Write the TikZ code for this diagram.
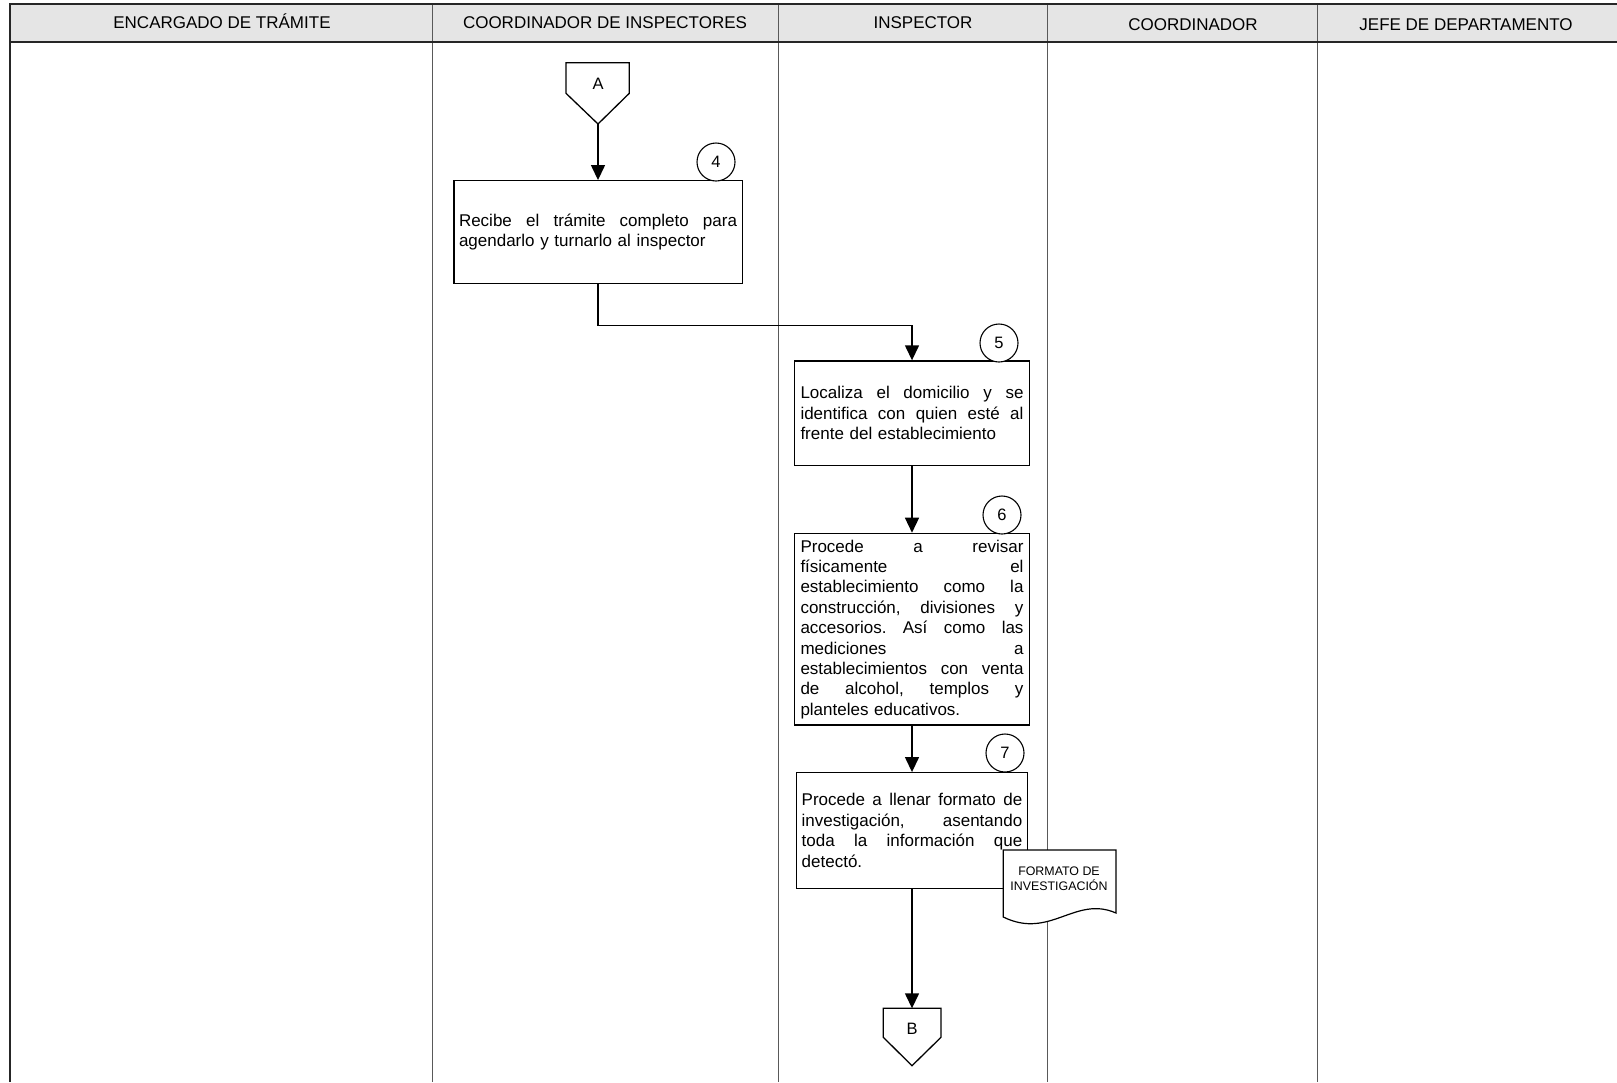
\documentclass[tikz,border=0pt]{standalone}
\usepackage{fontspec}
\setmainfont{Liberation Sans}
\usetikzlibrary{arrows.meta}
\newcommand\jl[1]{\leavevmode\hbox to \hsize{\frenchspacing\spaceskip=0.278em plus 1fil\relax #1}}
\hbadness=10000
\begin{document}
\begin{tikzpicture}[x=1pt,y=-1pt,
  lane/.style={draw=black!65, line width=1.1pt},
  frame/.style={draw=black!85, line width=2pt},
  hdr/.style={font=\fontsize{17}{20}\selectfont, inner sep=0pt, anchor=base},
  stepbox/.style={draw=black, line width=1.3pt, fill=white, inner sep=0pt, align=left, font=\fontsize{17}{20.4}\selectfont},
  num/.style={draw=black, line width=1.1pt, fill=white, circle, minimum size=38pt, inner sep=0pt, font=\fontsize{16.5}{18}\selectfont},
  flow/.style={draw=black, line width=1.4pt, -{Triangle[width=14pt,length=15pt]}},
  conn/.style={draw=black, line width=1.3pt, fill=white, line join=miter},
  connlbl/.style={inner sep=0pt, font=\fontsize{16.5}{18}\selectfont},
  docshape/.style={draw=black, line width=1.2pt, fill=white},
  doclbl/.style={inner sep=0pt, align=center, font=\fontsize{12.4}{15}\selectfont},
]
\useasboundingbox (0,0) rectangle (1617,1082);
\fill[white] (0,0) rectangle (1617,1082);
% header band
\fill[black!10] (10,4) rectangle (1617,42.3);
\foreach \x in {432.7,778.7,1047.8,1317.3} \draw[lane] (\x,5) -- (\x,1082);
\draw[frame] (10,1082) -- (10,4) -- (1617,4);
\draw[frame] (10,42.3) -- (1617,42.3);
% header labels
\node[hdr] (h1) at (222,28.1) {ENCARGADO DE TRÁMITE};
\node[hdr] (h2) at (605,28.1) {COORDINADOR DE INSPECTORES};
\node[hdr] (h3) at (923,28.1) {INSPECTOR};
\node[hdr] (h4) at (1193,30.3) {COORDINADOR};
\node[hdr] (h5) at (1466,30.3) {JEFE DE DEPARTAMENTO};

% connector A
\draw[conn] (566,62.7) -- (629.3,62.7) -- (629.3,93.3) -- (598,124) -- (566,93.3) -- cycle;
\node[connlbl] (A) at (598,84) {A};
\coordinate (Atip) at (598,124);

% step 4
\node[stepbox, minimum width=288.3pt, minimum height=102.6pt, text width=278pt] (s4) at (598,232)
  {\jl{Recibe el trámite completo para}\\agendarlo y turnarlo al inspector};
\node[num] (n4) at (716,162) {4};

% step 5
\node[stepbox, minimum width=234.7pt, minimum height=104.7pt, text width=223pt] (s5) at (912,413.3)
  {\jl{Localiza el domicilio y se}\\\jl{identifica con quien esté al}\\frente del establecimiento};
\node[num] (n5) at (999,343) {5};

% step 6
\node[stepbox, minimum width=234.7pt, minimum height=191.7pt, text width=223pt] (s6) at (912,629.2)
  {\jl{Procede a revisar}\\\jl{físicamente el}\\\jl{establecimiento como la}\\\jl{construcción, divisiones y}\\\jl{accesorios. Así como las}\\\jl{mediciones a}\\\jl{establecimientos con venta}\\\jl{de alcohol, templos y}\\planteles educativos.};
\node[num] (n6) at (1002,515) {6};

% step 7
\node[stepbox, minimum width=231pt, minimum height=115.6pt, text width=220.6pt] (s7) at (912,830.5)
  {\jl{Procede a llenar formato de}\\\jl{investigación, asentando}\\\jl{toda la información que}\\detectó.};
\node[num] (n7) at (1005,753) {7};

% document
\draw[docshape] (1003.3,850) -- (1116,850) -- (1116,913) .. controls (1075,895) and (1050,940) .. (1003.3,917) -- cycle;
\node[doclbl] (doc) at (1059,879.2) {FORMATO DE\\INVESTIGACIÓN};

% connector B
\draw[conn] (883.3,1008.3) -- (941,1008.3) -- (941,1037.3) -- (912,1065.7) -- (883.3,1037.3) -- cycle;
\node[connlbl] (B) at (912,1029) {B};
\coordinate (Btop) at (912,1008.3);

% flow arrows
\draw[flow] (Atip) -- (s4.north);
\draw[flow] (s4.south) -- ++(0,41.3) -| (s5.north);
\draw[flow] (s5.south) -- (s6.north);
\draw[flow] (s6.south) -- (s7.north);
\draw[flow] (s7.south) -- (Btop);
\end{tikzpicture}
\end{document}
